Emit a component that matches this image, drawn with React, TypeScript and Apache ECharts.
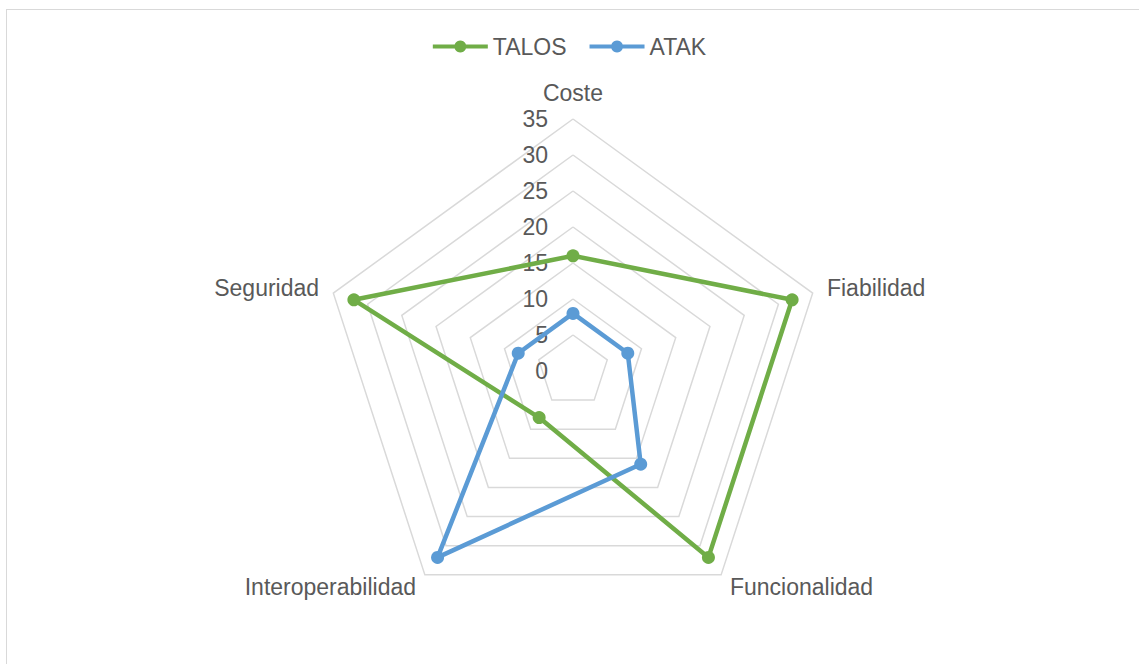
import React, { useEffect, useRef } from "react";
import * as echarts from "echarts";

const categories = ["Coste", "Fiabilidad", "Funcionalidad", "Interoperabilidad", "Seguridad"];
const talos = [16, 32, 32, 8, 32];
const atak = [8, 8, 16, 32, 8];
const seriesNames = ["TALOS", "ATAK"];
const axisMax = 35;
const axisStep = 5;

// ECharts lays radar axes counter-clockwise; Excel lays them clockwise.
const order = [0, 4, 3, 2, 1];
const reorder = (arr: any[]) => order.map((i) => arr[i]);

const legendIcon =
  "path://M0,4.5h22v4h-22z M33,4.5h22v4h-22z M27.5,0.5a6,6 0 1,1 -0.001,0z";

export default function App() {
  const ref = useRef<HTMLDivElement>(null);
  useEffect(() => {
    if (!ref.current) return;
    const chart = echarts.init(ref.current, null, { renderer: "svg" });
    const font = "Liberation Sans, Arial, sans-serif";
    chart.setOption({
      animation: false,
      legend: {
        top: 30,
        left: "center",
        itemWidth: 55,
        itemHeight: 13,
        itemGap: 23,
        textStyle: { fontSize: 23, color: "#595959", fontFamily: font },
        data: [
          { name: seriesNames[0], icon: legendIcon },
          { name: seriesNames[1], icon: legendIcon },
        ],
      },
      radar: {
        center: [573, 371],
        radius: 252,
        shape: "polygon",
        startAngle: 90,
        splitNumber: axisMax / axisStep,
        axisName: { color: "#595959", fontSize: 23, fontFamily: font },
        nameGap: 15,
        splitLine: { lineStyle: { color: "#D9D9D9", width: 1.5 } },
        splitArea: { show: false },
        axisLine: { show: false },
        axisTick: { show: false },
        axisLabel: { show: false },
        indicator: reorder(categories).map((name, i) => ({
          name,
          min: 0,
          max: axisMax,
          ...(i === 0
            ? {
                axisLabel: {
                  show: true,
                  color: "#595959",
                  fontSize: 23,
                  fontFamily: font,
                  margin: 25,
                  showMinLabel: true,
                },
              }
            : {}),
        })),
      },
      series: [
        {
          type: "radar",
          symbol: "circle",
          symbolSize: 13,
          data: [
            {
              name: seriesNames[0],
              value: reorder(talos),
              itemStyle: { color: "#70AD47" },
              lineStyle: { color: "#70AD47", width: 4.5 },
            },
            {
              name: seriesNames[1],
              value: reorder(atak),
              itemStyle: { color: "#5B9BD5" },
              lineStyle: { color: "#5B9BD5", width: 4.5 },
            },
          ],
        },
      ],
    });
    return () => chart.dispose();
  }, []);
  return (
    <div style={{ position: "absolute", left: 0, top: 0, width: 1139, height: 664, background: "#fff" }}>
      <div
        style={{
          position: "absolute",
          left: 6,
          top: 9,
          width: 1140,
          height: 660,
          border: "1.5px solid #D9D9D9",
          boxSizing: "border-box",
        }}
      />
      <div ref={ref} style={{ position: "absolute", left: 0, top: 0, width: 1139, height: 664 }} />
    </div>
  );
}
